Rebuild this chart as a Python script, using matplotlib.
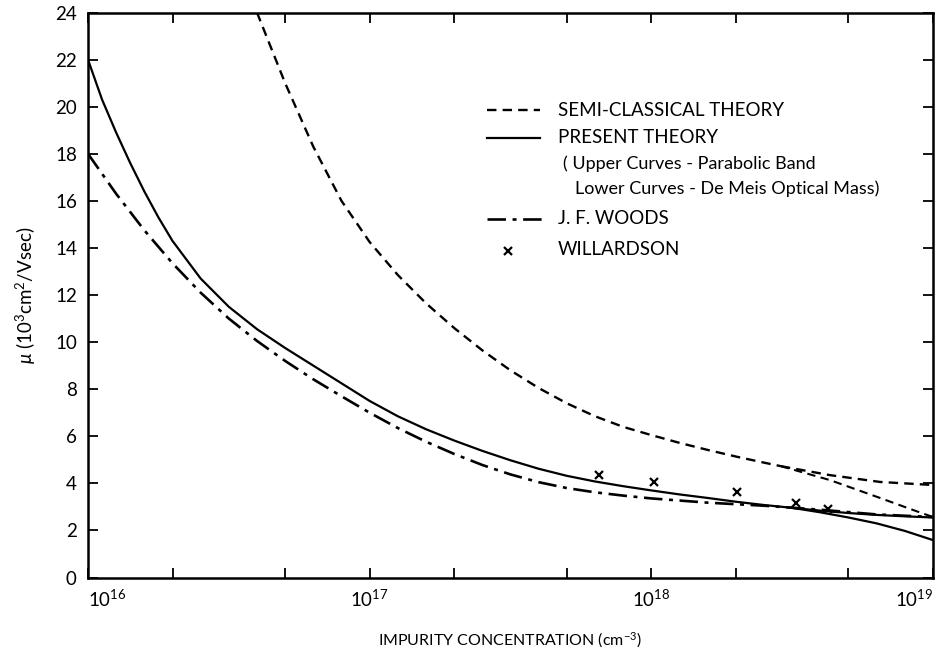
import matplotlib
matplotlib.use('Agg')
import matplotlib.pyplot as plt
from matplotlib.lines import Line2D
from matplotlib.ticker import LogLocator, NullFormatter

plt.rcParams['font.family'] = ['Lato', 'DejaVu Sans']
plt.rcParams['mathtext.fontset'] = 'custom'
plt.rcParams['mathtext.rm'] = 'Lato'
plt.rcParams['mathtext.it'] = 'Lato:italic'

# semi-classical theory (dashed): shared part, then upper / lower branch
semi_x = [3.981e16, 5.012e16, 6.310e16, 7.943e16, 1.0e17, 1.259e17, 1.585e17, 1.995e17,
          2.512e17, 3.162e17, 3.981e17, 5.012e17, 6.310e17, 7.943e17, 1.0e18, 1.259e18,
          1.585e18, 1.995e18, 2.512e18, 2.884e18]
semi_y = [24.0, 21.0, 18.3, 16.0, 14.25, 12.85, 11.65, 10.6, 9.65, 8.8, 8.05, 7.4, 6.85,
          6.4, 6.05, 5.72, 5.42, 5.14, 4.88, 4.73]
semi_up_x = [2.884e18, 4.305e18, 6.486e18, 1.0e19]
semi_up_y = [4.73, 4.35, 4.06, 3.93]
semi_lo_x = [2.884e18, 4.305e18, 6.486e18, 8.492e18, 1.0e19]
semi_lo_y = [4.73, 4.14, 3.38, 2.87, 2.57]

# present theory (solid): shared part, then parabolic band / De Meis branch
pres_x = [1.0e16, 1.122e16, 1.259e16, 1.413e16, 1.585e16, 1.778e16, 1.995e16, 2.512e16,
          3.162e16, 3.981e16, 5.012e16, 6.310e16, 7.943e16, 1.0e17, 1.259e17, 1.585e17,
          1.995e17, 2.512e17, 3.162e17, 3.981e17, 5.012e17, 6.310e17, 7.943e17, 1.0e18,
          1.259e18, 1.585e18, 1.995e18, 2.512e18, 3.162e18]
pres_y = [22.0, 20.3, 18.9, 17.6, 16.4, 15.3, 14.3, 12.7, 11.5, 10.55, 9.75, 9.0, 8.25,
          7.5, 6.85, 6.3, 5.82, 5.38, 4.98, 4.62, 4.32, 4.08, 3.88, 3.7, 3.53, 3.38, 3.22,
          3.08, 2.96]
pres_up_x = [3.162e18, 3.981e18, 5.012e18, 6.310e18, 7.943e18, 1.0e19]
pres_up_y = [2.96, 2.84, 2.74, 2.66, 2.6, 2.55]
pres_lo_x = [3.162e18, 3.981e18, 5.012e18, 6.310e18, 7.943e18, 1.0e19]
pres_lo_y = [2.96, 2.77, 2.55, 2.3, 1.98, 1.59]

# J. F. Woods (dash-dot)
woods_x = [1.0e16, 1.259e16, 1.585e16, 1.995e16, 2.512e16, 3.162e16, 3.981e16, 5.012e16,
           6.310e16, 7.943e16, 1.0e17, 1.259e17, 1.585e17, 1.995e17, 2.512e17, 3.162e17,
           3.981e17, 5.012e17, 6.310e17, 7.943e17, 1.0e18, 1.585e18, 2.512e18, 3.981e18,
           6.310e18, 1.0e19]
woods_y = [18.0, 16.3, 14.75, 13.35, 12.1, 11.0, 10.05, 9.2, 8.42, 7.7, 7.0, 6.35, 5.77,
           5.25, 4.78, 4.38, 4.05, 3.8, 3.62, 3.48, 3.36, 3.18, 3.05, 2.88, 2.68, 2.57]

# Willardson (x markers)
will_x = [6.52e17, 1.02e18, 2.01e18, 3.26e18, 4.24e18]
will_y = [4.35, 4.06, 3.63, 3.16, 2.91]

x_ticks = [1e16, 1e17, 1e18, 1e19]
x_tick_labels = ['$10^{16}$', '$10^{17}$', '$10^{18}$', '$10^{19}$']
y_ticks = list(range(0, 25, 2))

fig = plt.figure(figsize=(9.37, 6.58), dpi=100)
ax = fig.add_axes([0.0939, 0.1223, 0.9018, 0.8587])

dash = (0, (4, 2.6))
dashdot = (0, (7, 2.5, 1.5, 2.5))

ax.plot(semi_x, semi_y, color='black', lw=1.7, linestyle=dash)
ax.plot(semi_up_x, semi_up_y, color='black', lw=1.7, linestyle=dash)
ax.plot(semi_lo_x, semi_lo_y, color='black', lw=1.5, linestyle=dash)
ax.plot(pres_x, pres_y, color='black', lw=1.6)
ax.plot(pres_up_x, pres_up_y, color='black', lw=1.6)
ax.plot(pres_lo_x, pres_lo_y, color='black', lw=1.6)
ax.plot(woods_x, woods_y, color='black', lw=1.9, linestyle=dashdot)
ax.plot(will_x, will_y, linestyle='none', marker='x', color='black', ms=6, mew=1.6)

ax.set_xscale('log')
ax.set_xlim(1e16, 1e19)
ax.set_ylim(0, 24)
ax.set_yticks(y_ticks)
ax.set_xticks(x_ticks, x_tick_labels)
ax.xaxis.set_minor_locator(LogLocator(base=10, subs=(2.0, 5.0), numticks=10))
ax.xaxis.set_minor_formatter(NullFormatter())

for s in ax.spines.values():
    s.set_linewidth(1.8)
ax.tick_params(which='both', direction='in', top=True, right=True, length=7,
               width=1.3, labelsize=13.5)
ax.tick_params(axis='y', pad=8)
ax.tick_params(axis='x', pad=8)
xl = ax.get_xticklabels()
xl[0].set_ha('left')
xl[-1].set_ha('right')

ax.set_xlabel('IMPURITY CONCENTRATION (cm$^{-3}$)', fontsize=11.5, labelpad=15)
ax.set_ylabel(r'$\mu$ (10$^3$cm$^2$/Vsec)', fontsize=13.5, labelpad=12)

# legend block
tr = ax.transAxes
ax.add_line(Line2D([0.472, 0.535], [0.827, 0.827], transform=tr, color='black',
                   lw=1.7, linestyle=dash))
ax.text(0.556, 0.827, 'SEMI-CLASSICAL THEORY', transform=tr, va='center', fontsize=13.5)
ax.add_line(Line2D([0.472, 0.535], [0.778, 0.778], transform=tr, color='black', lw=1.6))
ax.text(0.556, 0.778, 'PRESENT THEORY', transform=tr, va='center', fontsize=13.5)
ax.text(0.562, 0.732, '( Upper Curves - Parabolic Band', transform=tr, va='center',
        fontsize=13)
ax.text(0.576, 0.688, 'Lower Curves - De Meis Optical Mass)', transform=tr, va='center',
        fontsize=13)
ax.add_line(Line2D([0.472, 0.537], [0.635, 0.635], transform=tr, color='black',
                   lw=1.9, linestyle=dashdot))
ax.text(0.556, 0.635, 'J. F. WOODS', transform=tr, va='center', fontsize=13.5)
ax.add_line(Line2D([0.497], [0.578], transform=tr, color='black', linestyle='none',
                   marker='x', ms=6, mew=1.6))
ax.text(0.556, 0.580, 'WILLARDSON', transform=tr, va='center', fontsize=13.5)

fig.savefig('out.png', dpi=100)
